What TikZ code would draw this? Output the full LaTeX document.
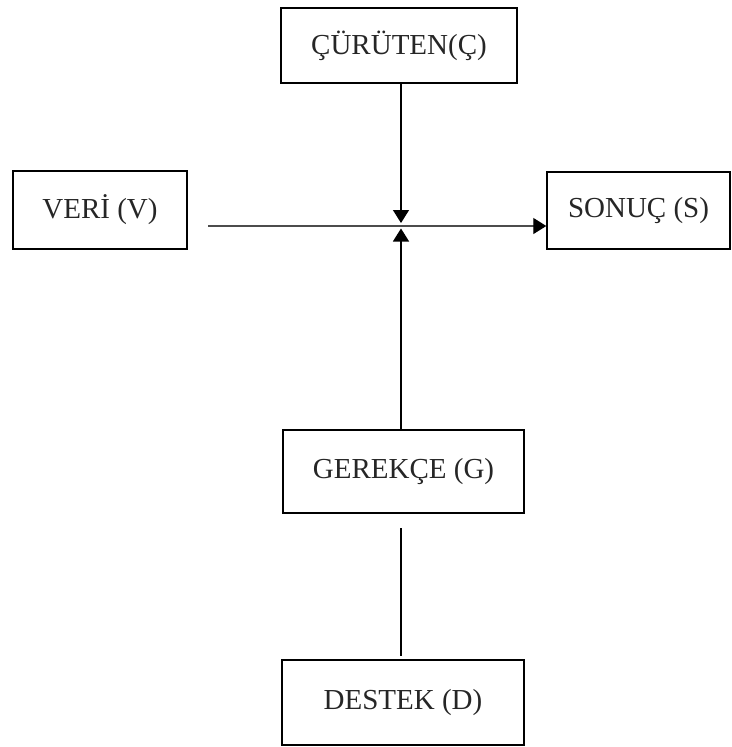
\documentclass[tikz,border=0pt]{standalone}
\usepackage{fontspec}
\setmainfont{Liberation Serif}
\usetikzlibrary{arrows.meta}
\begin{document}
\begin{tikzpicture}[x=1pt,y=-1pt,
  box/.style={draw=black, line width=1.4pt, rectangle, inner sep=0pt,
              font=\fontsize{29}{33}\selectfont, text=black!85},
  link/.style={line width=1.3pt, black},
  tip/.style={-{Triangle[width=16pt,length=13pt,fill=black,color=black]}}]
  \useasboundingbox (0,0) rectangle (731,747);

  % boxes of the argument model
  \node[box, minimum width=236pt, minimum height=75pt] (C) at (399,45.5) {ÇÜRÜTEN(Ç)};
  \node[box, minimum width=174pt, minimum height=78pt] (V) at (100,210) {VERİ (V)};
  \node[box, minimum width=183pt, minimum height=77pt] (S) at (638.5,210.5) {SONUÇ (S)};
  \node[box, minimum width=241pt, minimum height=83pt] (G) at (403.5,471.5) {\raisebox{3pt}{GEREKÇE (G)}};
  \node[box, minimum width=242pt, minimum height=85pt] (D) at (403,702.5) {\raisebox{3pt}{DESTEK (D)}};

  % junction points on the main line
  \coordinate (hstart) at (208,226);
  \coordinate (tipdown) at (401,223);
  \coordinate (tipup) at (401,228.5);
  \coordinate (gstub) at (401,528);
  \coordinate (dstub) at (401,656);

  % data to claim
  \draw[link, tip, draw=black!70] (hstart) -- (hstart -| S.west);
  % rebuttal and warrant meeting the main line
  \draw[link, tip] (C.south -| tipdown) -- (tipdown);
  \draw[link, tip] (G.north -| tipup) -- (tipup);
  % backing under the warrant
  \draw[link] (gstub) -- (dstub);
\end{tikzpicture}
\end{document}
